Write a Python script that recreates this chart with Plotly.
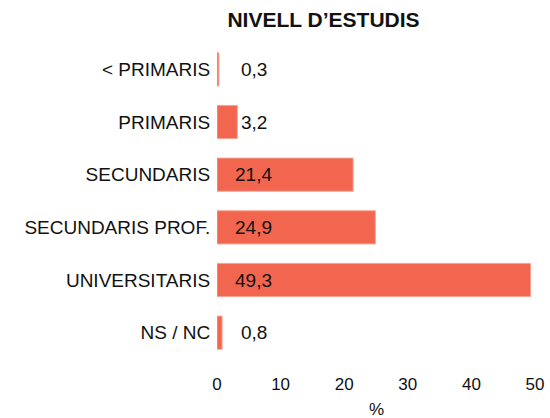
import plotly.graph_objects as go

categories = ["< PRIMARIS", "PRIMARIS", "SECUNDARIS", "SECUNDARIS PROF.", "UNIVERSITARIS", "NS / NC"]
values = [0.3, 3.2, 21.4, 24.9, 49.3, 0.8]
x_ticks = [0, 10, 20, 30, 40, 50]

labels = [f"{v:.1f}".replace(".", ",") for v in values]
color = "#F26650"
FONT = "Liberation Sans, Arial, sans-serif"

W, H = 550, 418
L, R, T, B = 217, 15, 43, 59

fig = go.Figure()
fig.add_trace(go.Bar(
    y=categories, x=values, orientation="h",
    marker=dict(color=color, line=dict(color="#F7A494", width=1)),
    width=0.63, hoverinfo="skip",
))
for c, v, t in zip(categories, values, labels):
    inside = v > 10
    fig.add_annotation(x=0, y=c, xref="x", yref="y", text=t, showarrow=False,
                       xanchor="left", xshift=16 if inside else 22,
                       font=dict(family=FONT, size=19, color="#111111"))

plot_h = H - T - B
fig.add_annotation(text="%", xref="paper", yref="paper", x=0.5,
                   y=-(409 - (H - B)) / plot_h, xanchor="center", yanchor="middle",
                   showarrow=False, font=dict(family=FONT, size=17, color="#111111"))

fig.update_layout(
    width=W, height=H,
    margin=dict(l=L, r=R, t=T, b=B, autoexpand=False),
    paper_bgcolor="white", plot_bgcolor="white",
    showlegend=False,
    font=dict(family=FONT, size=17, color="#111111"),
    title=dict(text="<b>NIVELL D’ESTUDIS</b>", x=323.5 / W, xanchor="center",
               y=1 - 20 / H, yanchor="middle",
               font=dict(family=FONT, size=21, color="#111111")),
)
fig.update_xaxes(range=[0, 50], tickvals=x_ticks, ticktext=[str(t) for t in x_ticks],
                 showgrid=False, zeroline=False, showline=False,
                 ticks="outside", ticklen=0, ticklabelstandoff=10,
                 tickfont=dict(family=FONT, size=17, color="#111111"))
fig.update_yaxes(categoryorder="array", categoryarray=categories, autorange="reversed",
                 showgrid=False, zeroline=False, showline=False,
                 ticks="outside", ticklen=0, ticklabelstandoff=2,
                 tickfont=dict(family=FONT, size=19, color="#111111"))

fig.write_html(
    "out.html",
    config={"displayModeBar": False, "staticPlot": True},
    post_script="document.body.style.margin='0';document.documentElement.style.overflow='hidden';document.body.style.overflow='hidden';",
)
